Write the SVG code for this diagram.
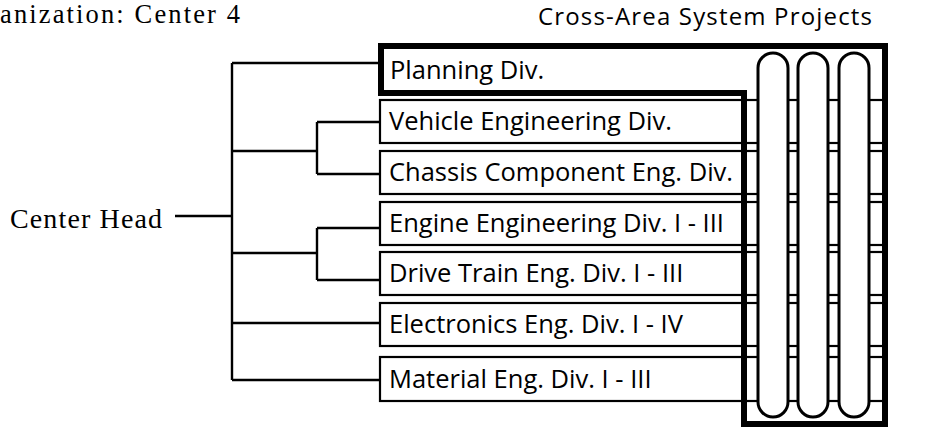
<svg xmlns="http://www.w3.org/2000/svg" width="948" height="428" viewBox="0 0 948 428">
<style>
.serif{font-family:"Liberation Serif","DejaVu Serif",serif;fill:#000}
.sans{font-family:"Open Sans","Noto Sans","DejaVu Sans",sans-serif;fill:#000}
.box{fill:#fff;stroke:#000;stroke-width:2.2}
.lbl{font-size:25.5px}
.con{fill:none;stroke:#000;stroke-width:2.4}
.pill{fill:#fff;stroke:#000;stroke-width:3}
</style>
<rect width="948" height="428" fill="#fff"/>
<text class="serif" x="0" y="23" font-size="26.5" textLength="240">anization: Center 4</text>
<text class="sans" x="538" y="25" font-size="24" textLength="334">Cross-Area System Projects</text>
<g id="center-head"><text class="serif" x="10" y="228" font-size="28" textLength="152">Center Head</text></g>
<g id="connectors">
<path class="con" d="M232 63V380M232 63H379M232 151H317M317 122V174M317 122H379M317 174H379M175 216H232M232 253H317M317 228V280M317 228H379M317 280H379M232 323H379M232 380H379"/>
</g>
<g id="vehicle"><rect class="box" x="380" y="100" width="504" height="43"/><text class="sans lbl" x="389" y="130">Vehicle Engineering Div.</text></g>
<g id="chassis"><rect class="box" x="380" y="151" width="504" height="43"/><text class="sans lbl" x="389" y="181">Chassis Component Eng. Div.</text></g>
<g id="engine"><rect class="box" x="380" y="202" width="504" height="43"/><text class="sans lbl" x="389" y="232">Engine Engineering Div. I - III</text></g>
<g id="drive"><rect class="box" x="380" y="252" width="504" height="43"/><text class="sans lbl" x="389" y="282">Drive Train Eng. Div. I - III</text></g>
<g id="electronics"><rect class="box" x="380" y="303" width="504" height="43"/><text class="sans lbl" x="389" y="333">Electronics Eng. Div. I - IV</text></g>
<g id="material"><rect class="box" x="380" y="357" width="504" height="44"/><text class="sans lbl" x="389" y="388">Material Eng. Div. I - III</text></g>
<g id="planning"><path d="M381 46H885V424H744V93H381Z" fill="none" stroke="#000" stroke-width="6" stroke-linejoin="miter"/><text class="sans lbl" x="390" y="79">Planning Div.</text></g>
<g id="projects">
<rect class="pill" x="758" y="53" width="30" height="364" rx="15"/>
<rect class="pill" x="798" y="53" width="30" height="364" rx="15"/>
<rect class="pill" x="839" y="53" width="30" height="364" rx="15"/>
</g>
</svg>
